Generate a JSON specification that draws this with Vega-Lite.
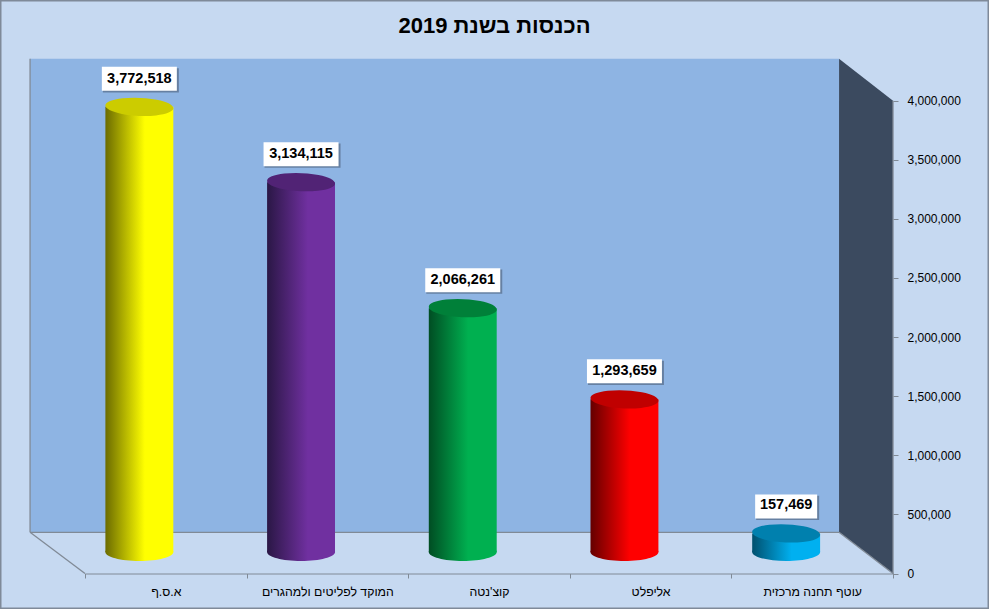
{
"$schema":"https://vega.github.io/schema/vega-lite/v6.json",
"width":989,"height":609,"padding":0,"autosize":"none",
"background":"#c6d9f1",
"view":{"stroke":"#7f8a99","strokeWidth":3,"fill":null},
"title":{"text":"הכנסות בשנת 2019","font":"Liberation Sans","fontSize":22,"fontWeight":"bold","color":"#000000","anchor":"middle","frame":"group","offset":-38},
"datasets":{
"bars":[
{"name":"א.ס.ף","value":3772518},
{"name":"המוקד לפליטים ולמהגרים","value":3134115},
{"name":"קוצ'נטה","value":2066261},
{"name":"אליפלט","value":1293659},
{"name":"עוטף תחנה מרכזית","value":157469}
],
"frame":[
{"part":"wall","pos":-0.34,"top":4355000,"bottom":348560},
{"part":"wall","pos":4.666,"top":4355000,"bottom":348560},
{"part":"side","pos":4.666,"top":4355000,"bottom":348560},
{"part":"side","pos":5,"top":4000000,"bottom":0},
{"part":"floor","pos":-0.34,"top":348560,"bottom":348560},
{"part":"floor","pos":0,"top":348560,"bottom":0},
{"part":"floor","pos":4.666,"top":348560,"bottom":0},
{"part":"floor","pos":5,"top":0,"bottom":0}
],
"edges":[
{"edge":"corner","pos":-0.34,"level":348560},
{"edge":"corner","pos":0,"level":0},
{"edge":"base","pos":-0.34,"level":348560},
{"edge":"base","pos":4.666,"level":348560},
{"edge":"depth","pos":4.666,"level":348560},
{"edge":"depth","pos":5,"level":0},
{"edge":"left","pos":-0.34,"level":348560},
{"edge":"left","pos":-0.34,"level":4355000},
{"edge":"axis","pos":5,"level":0},
{"edge":"axis","pos":5,"level":4000000}
]
},
"resolve":{"scale":{"x":"independent","y":"independent"},"axis":{"x":"independent","y":"independent"}},
"layer":[
{
"layer":[
{"data":{"name":"frame"},"transform":[{"filter":"datum.part==='wall'"}],"mark":{"type":"area","color":"#8eb4e3"},
"encoding":{"x":{"field":"pos","type":"quantitative"},"y":{"field":"top","type":"quantitative","stack":null},"y2":{"field":"bottom"}}},
{"data":{"name":"frame"},"transform":[{"filter":"datum.part==='side'"}],"mark":{"type":"area","color":"#3b4a5f"},
"encoding":{"x":{"field":"pos","type":"quantitative"},"y":{"field":"top","type":"quantitative","stack":null},"y2":{"field":"bottom"}}},
{"data":{"name":"frame"},"transform":[{"filter":"datum.part==='floor'"}],"mark":{"type":"area","color":"#c6d9f1"},
"encoding":{"x":{"field":"pos","type":"quantitative"},"y":{"field":"top","type":"quantitative","stack":null},"y2":{"field":"bottom"}}},
{"data":{"name":"edges"},"mark":{"type":"line","color":"#808a96","strokeWidth":1.3},
"encoding":{"x":{"field":"pos","type":"quantitative"},"y":{"field":"level","type":"quantitative"},"detail":{"field":"edge"}}}
],
"encoding":{
"x":{"field":"pos","type":"quantitative","title":null,"axis":null,"scale":{"domain":[-0.526,5.594],"nice":false,"zero":false}},
"y":{"field":"level","type":"quantitative","title":null,"scale":{"domain":[-300337,4851925],"nice":false,"zero":false},
"axis":{"orient":"right","offset":-96,"domain":false,"grid":false,"values":[0,500000,1000000,1500000,2000000,2500000,3000000,3500000,4000000],"format":",d","title":null,"tickColor":"#808a96","tickSize":5,"labelPadding":9,"labelFont":"Liberation Sans","labelFontSize":12,"labelColor":"#000000"}}
}
},
{
"data":{"name":"bars"},
"mark":{"type":"bar","opacity":0},
"encoding":{"x":{"field":"name","type":"nominal","sort":null,"title":null,"scale":{"range":[85,893],"paddingInner":0,"paddingOuter":0},
"axis":{"orient":"bottom","offset":-36,"labelAngle":0,"tickBand":"extent","domainColor":"#808a96","domainWidth":2,"tickColor":"#808a96","tickSize":5,"labelPadding":7,"labelFont":"Liberation Sans","labelFontSize":12.3,"labelColor":"#000000","labelLimit":300,"labelOverlap":false,"grid":false,"title":null}}}
},
{
"data":{"name":"bars"},
"encoding":{
"x":{"field":"name","type":"nominal","sort":null,"title":null,"axis":null,"scale":{"range":[58.5,867],"paddingInner":0.58,"paddingOuter":0.29}},
"y":{"field":"value","type":"quantitative","stack":null,"title":null,"axis":null,"scale":{"domain":[-483051,4677966],"nice":false,"zero":false}}
},
"layer":[
{"transform":[{"filter":"datum.value==3772518"}],"mark":{"type":"point","filled":true,"opacity":1,"strokeWidth":0,"size":4624,"shape":"M-1,0A1,0.265 0 1 1 1,0A1,0.265 0 1 1 -1,0Z","fill":{"gradient":"linear","x1":0,"x2":1,"y1":0,"y2":0,"stops":[{"offset":0,"color":"#6b6b00"},{"offset":0.58,"color":"#ffff00"},{"offset":1,"color":"#ffff00"}]}},"encoding":{"y":{"datum":0,"type":"quantitative"}}},
{"transform":[{"filter":"datum.value==3772518"}],"mark":{"type":"bar","fill":{"gradient":"linear","x1":0,"x2":1,"y1":0,"y2":0,"stops":[{"offset":0,"color":"#6b6b00"},{"offset":0.58,"color":"#ffff00"},{"offset":1,"color":"#ffff00"}]}},"encoding":{"y2":{"datum":0}}},
{"transform":[{"filter":"datum.value==3134115"}],"mark":{"type":"point","filled":true,"opacity":1,"strokeWidth":0,"size":4624,"shape":"M-1,0A1,0.265 0 1 1 1,0A1,0.265 0 1 1 -1,0Z","fill":{"gradient":"linear","x1":0,"x2":1,"y1":0,"y2":0,"stops":[{"offset":0,"color":"#2a1745"},{"offset":0.6,"color":"#7030a0"},{"offset":1,"color":"#7030a0"}]}},"encoding":{"y":{"datum":0,"type":"quantitative"}}},
{"transform":[{"filter":"datum.value==3134115"}],"mark":{"type":"bar","fill":{"gradient":"linear","x1":0,"x2":1,"y1":0,"y2":0,"stops":[{"offset":0,"color":"#2a1745"},{"offset":0.6,"color":"#7030a0"},{"offset":1,"color":"#7030a0"}]}},"encoding":{"y2":{"datum":0}}},
{"transform":[{"filter":"datum.value==2066261"}],"mark":{"type":"point","filled":true,"opacity":1,"strokeWidth":0,"size":4624,"shape":"M-1,0A1,0.265 0 1 1 1,0A1,0.265 0 1 1 -1,0Z","fill":{"gradient":"linear","x1":0,"x2":1,"y1":0,"y2":0,"stops":[{"offset":0,"color":"#004d23"},{"offset":0.58,"color":"#00b050"},{"offset":1,"color":"#00b050"}]}},"encoding":{"y":{"datum":0,"type":"quantitative"}}},
{"transform":[{"filter":"datum.value==2066261"}],"mark":{"type":"bar","fill":{"gradient":"linear","x1":0,"x2":1,"y1":0,"y2":0,"stops":[{"offset":0,"color":"#004d23"},{"offset":0.58,"color":"#00b050"},{"offset":1,"color":"#00b050"}]}},"encoding":{"y2":{"datum":0}}},
{"transform":[{"filter":"datum.value==1293659"}],"mark":{"type":"point","filled":true,"opacity":1,"strokeWidth":0,"size":4624,"shape":"M-1,0A1,0.265 0 1 1 1,0A1,0.265 0 1 1 -1,0Z","fill":{"gradient":"linear","x1":0,"x2":1,"y1":0,"y2":0,"stops":[{"offset":0,"color":"#640000"},{"offset":0.58,"color":"#ff0000"},{"offset":1,"color":"#ff0000"}]}},"encoding":{"y":{"datum":0,"type":"quantitative"}}},
{"transform":[{"filter":"datum.value==1293659"}],"mark":{"type":"bar","fill":{"gradient":"linear","x1":0,"x2":1,"y1":0,"y2":0,"stops":[{"offset":0,"color":"#640000"},{"offset":0.58,"color":"#ff0000"},{"offset":1,"color":"#ff0000"}]}},"encoding":{"y2":{"datum":0}}},
{"transform":[{"filter":"datum.value==157469"}],"mark":{"type":"point","filled":true,"opacity":1,"strokeWidth":0,"size":4624,"shape":"M-1,0A1,0.265 0 1 1 1,0A1,0.265 0 1 1 -1,0Z","fill":{"gradient":"linear","x1":0,"x2":1,"y1":0,"y2":0,"stops":[{"offset":0,"color":"#00506e"},{"offset":0.58,"color":"#00b0f0"},{"offset":1,"color":"#00b0f0"}]}},"encoding":{"y":{"datum":0,"type":"quantitative"}}},
{"transform":[{"filter":"datum.value==157469"}],"mark":{"type":"bar","fill":{"gradient":"linear","x1":0,"x2":1,"y1":0,"y2":0,"stops":[{"offset":0,"color":"#00506e"},{"offset":0.58,"color":"#00b0f0"},{"offset":1,"color":"#00b0f0"}]}},"encoding":{"y2":{"datum":0}}},
{"mark":{"type":"point","filled":true,"opacity":1,"strokeWidth":0,"size":4624,"shape":"M-0.999,-0.044A1,0.265 2.5 1 1 0.999,0.044A1,0.265 2.5 1 1 -0.999,-0.044Z"},
"encoding":{"color":{"field":"name","type":"nominal","sort":null,"legend":null,"scale":{"range":["#cccc00","#512375","#008039","#c00000","#0080ae"]}}}},
{"transform":[{"filter":"datum.value>=1000000"}],"mark":{"type":"point","filled":true,"opacity":0.4,"strokeWidth":0,"color":"#2a3340","size":5776,"xOffset":1.5,"yOffset":-26.5,"shape":"M-1,-0.32H1V0.32H-1Z"}},
{"transform":[{"filter":"datum.value>=1000000"}],"mark":{"type":"point","filled":true,"opacity":1,"strokeWidth":0,"color":"#ffffff","size":5625,"yOffset":-28,"shape":"M-1,-0.32H1V0.32H-1Z"}},
{"transform":[{"filter":"datum.value<1000000"}],"mark":{"type":"point","filled":true,"opacity":0.4,"strokeWidth":0,"color":"#2a3340","size":3969,"xOffset":1.5,"yOffset":-25.5,"shape":"M-1,-0.387H1V0.387H-1Z"}},
{"transform":[{"filter":"datum.value<1000000"}],"mark":{"type":"point","filled":true,"opacity":1,"strokeWidth":0,"color":"#ffffff","size":3844,"yOffset":-27,"shape":"M-1,-0.387H1V0.387H-1Z"}},
{"mark":{"type":"text","font":"Liberation Sans","fontSize":14.5,"fontWeight":"bold","color":"#000000","baseline":"middle","align":"center","yOffset":-28},
"encoding":{"text":{"field":"value","type":"quantitative","format":",d"}}}
]
}
]
}
